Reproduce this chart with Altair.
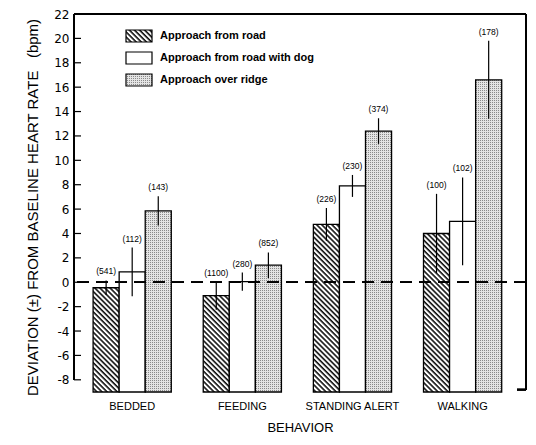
import altair as alt
import pandas as pd
import jinja2

# ---------------- data ----------------
categories = ["BEDDED", "FEEDING", "STANDING ALERT", "WALKING"]
series = ["Approach from road", "Approach from road with dog", "Approach over ridge"]

road = [-0.45, -1.1, 4.75, 4.0]
road_dog = [0.85, 0.05, 7.9, 5.0]
ridge = [5.85, 1.4, 12.4, 16.6]

road_err = [0.6, 1.15, 1.35, 3.25]
road_dog_err = [2.0, 0.75, 0.9, 3.6]
ridge_err = [1.2, 1.05, 1.05, 3.2]

road_n = [541, 1100, 226, 100]
road_dog_n = [112, 280, 230, 102]
ridge_n = [143, 852, 374, 178]

y_ticks = [-8, -6, -4, -2, 0, 2, 4, 6, 8, 10, 12, 14, 16, 18, 20, 22]
Y_MIN, Y_MAX = -9, 22

rows = []
for s, vals, errs, ns in zip(series, [road, road_dog, ridge],
                             [road_err, road_dog_err, ridge_err],
                             [road_n, road_dog_n, ridge_n]):
    for c, v, e, n in zip(categories, vals, errs, ns):
        rows.append(dict(behavior=c, approach=s, value=v, lo=v - e, hi=v + e,
                         label=f"({n})"))
df = pd.DataFrame(rows)
ticks_df = pd.DataFrame({"tick": y_ticks})

W, H = 452, 378
FONT = "Liberation Sans"

x_enc = alt.X("behavior:N", sort=categories,
              scale=alt.Scale(paddingInner=0.29, paddingOuter=0.197, align=0.44),
              axis=alt.Axis(title="BEHAVIOR", labelAngle=0, domain=False, ticks=False,
                            tickSize=0, labelPadding=8, labelFont=FONT, labelFontSize=11,
                            labelColor="black", titleFont=FONT, titleFontSize=13,
                            titleFontWeight="normal", titleColor="black", titlePadding=10))
xo_enc = alt.XOffset("approach:N", sort=series,
                     scale=alt.Scale(paddingInner=0, paddingOuter=0))
y_scale = alt.Scale(domain=[Y_MIN, Y_MAX], nice=False, zero=False)
y_axis = alt.Axis(values=y_ticks,
                  title="DEVIATION (±) FROM BASELINE HEART RATE\u00a0\u00a0\u00a0(bpm)",
                  labelExpr="'' + datum.value", labelOverlap=False,
                  domain=False, ticks=False, tickSize=0, grid=False, labelPadding=5,
                  labelFont="DejaVu Sans", labelFontSize=12, labelColor="black",
                  titleFont=FONT, titleFontSize=15, titleFontWeight="normal",
                  titleColor="black", titleX=-34, titleY=193)


def yf(field):
    return alt.Y(field, scale=y_scale, axis=y_axis)


def yd(value):
    return alt.YDatum(value, scale=y_scale, axis=y_axis)


bars = alt.Chart(df).mark_bar(stroke="black", strokeWidth=1.3).encode(
    x=x_enc,
    xOffset=xo_enc,
    y=yf("value:Q"),
    y2=alt.datum(Y_MIN),
    fill=alt.Fill("approach:N", sort=series,
                  scale=alt.Scale(domain=series,
                                  range=["url(#hatch)", "white", "url(#stipple)"]),
                  legend=alt.Legend(orient="none", legendX=57.5, legendY=14.5, title=None,
                                    symbolType="M-2,-0.92H2V0.92H-2Z", symbolSize=169,
                                    symbolStrokeColor="black", symbolStrokeWidth=1.2,
                                    labelFont=FONT, labelFontSize=11, labelFontWeight="bold",
                                    labelColor="black", labelOffset=13.5, rowPadding=5,
                                    padding=0)),
)

errs = alt.Chart(df).mark_rule(color="black", strokeWidth=1.2).encode(
    x=x_enc, xOffset=xo_enc, y=yf("lo:Q"), y2="hi:Q",
)

labels = alt.Chart(df).mark_text(font=FONT, fontSize=8.5, baseline="bottom", dy=-4,
                                 color="black").encode(
    x=x_enc, xOffset=xo_enc, y=yf("hi:Q"), text="label:N",
)

zero_line = alt.Chart(df).mark_rule(color="black", strokeWidth=1, strokeDash=[12, 7]).encode(
    y=yd(0))

tick_marks = alt.Chart(ticks_df).mark_rule(color="black", strokeWidth=1.2).encode(
    x=alt.value(0), x2=alt.value(7), y=yf("tick:Q"))

frame_left = alt.Chart(df).mark_rule(color="black", strokeWidth=1.3).encode(
    x=alt.value(0), y=yd(-8), y2=alt.datum(Y_MAX))
frame_top = alt.Chart(df).mark_rule(color="black", strokeWidth=1.3).encode(
    y=yd(Y_MAX))
frame_right = alt.Chart(df).mark_rule(color="black", strokeWidth=1.3).encode(
    x=alt.value(W), y=yd(Y_MAX), y2=alt.datum(-8.8))
frame_stub = alt.Chart(df).mark_rule(color="black", strokeWidth=1.3).encode(
    x=alt.value(W - 9), x2=alt.value(W), y=yd(-8.8))

chart = alt.layer(
    bars, errs, labels, zero_line, tick_marks,
    frame_left, frame_top, frame_right, frame_stub,
).properties(
    width=W, height=H,
    autosize=alt.AutoSizeParams(type="none"),
    padding={"left": 66, "top": 6, "right": 2, "bottom": 42},
    background="white",
).configure_view(stroke=None)

TEMPLATE = jinja2.Template("""<!DOCTYPE html>
<html>
<head>
<meta charset="utf-8">
<script type="text/javascript" src="{{ base_url }}/vega@{{ vega_version }}"></script>
<script type="text/javascript" src="{{ base_url }}/vega-lite@{{ vegalite_version }}"></script>
<script type="text/javascript" src="{{ base_url }}/vega-embed@{{ vegaembed_version }}"></script>
</head>
<body>
<svg width="0" height="0" style="position:absolute" aria-hidden="true">
  <defs>
    <pattern id="hatch" patternUnits="userSpaceOnUse" width="3.6" height="3.6" patternTransform="rotate(-45)">
      <rect width="3.6" height="3.6" fill="white"/>
      <line x1="1" y1="0" x2="1" y2="3.6" stroke="black" stroke-width="1.5"/>
    </pattern>
    <pattern id="stipple" patternUnits="userSpaceOnUse" width="2" height="2">
      <rect width="2" height="2" fill="#e4e4e4"/>
      <rect width="1" height="1" fill="#8a8a8a"/>
    </pattern>
  </defs>
</svg>
<div id="{{ output_div }}"></div>
<script type="text/javascript">
  vegaEmbed("#{{ output_div }}", {{ spec }}, {{ embed_options }}).catch(console.error);
</script>
</body>
</html>
""")

chart.save("out.html", embed_options={"renderer": "svg", "actions": False}, template=TEMPLATE)
